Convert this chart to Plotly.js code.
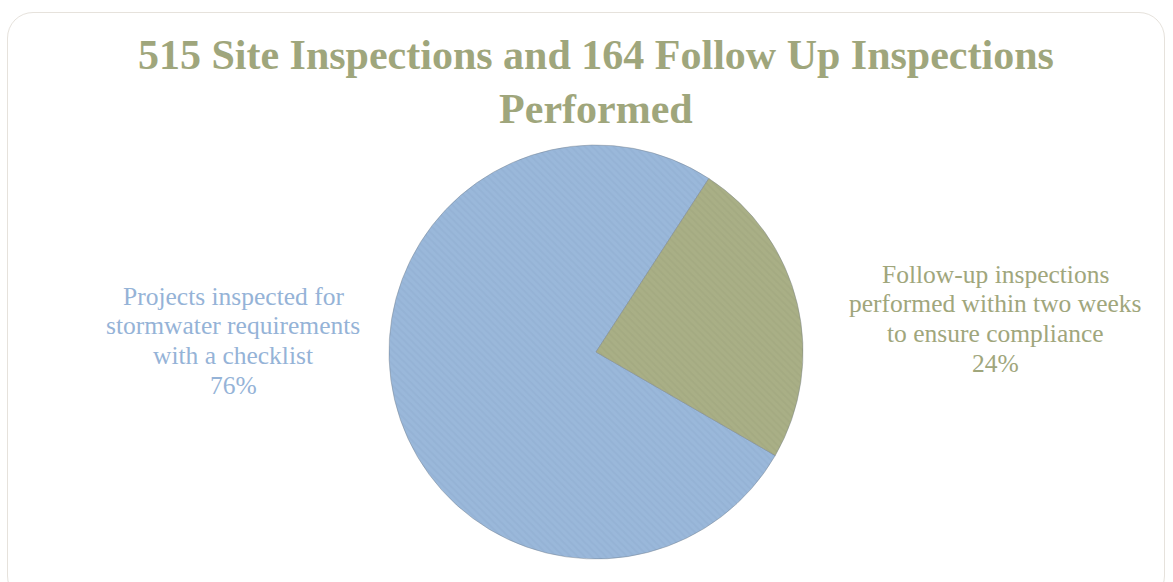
<!DOCTYPE html>
<html>
<head>
<meta charset="utf-8">
<script src="https://cdn.plot.ly/plotly-3.0.1.min.js"></script>
<style>
  html, body { margin: 0; padding: 0; background: #fff; }
  #card {
    position: absolute; left: 7px; top: 12px; width: 1158px; height: 590px;
    border: 1.5px solid #e6e2dc; border-radius: 26px; box-sizing: border-box;
  }
  #pie { position: absolute; left: 0; top: 0; width: 1173px; height: 582px; }
</style>
</head>
<body>
<div id="card"></div>
<div id="pie"></div>
<script>
var labelLines = [
    ['Projects inspected for', 'stormwater requirements', 'with a checklist'],
    ['Follow-up inspections', 'performed within two weeks', 'to ensure compliance']
];
var counts = [515, 164];
var colors = ['#9ab8da', '#a9af86'];
var textColors = ['#95b3d7', '#a0a67c'];

var total = counts[0] + counts[1];
var pct = counts.map(function (v) { return Math.round(v / total * 100) + '%'; });

var trace = {
    type: 'pie',
    values: counts,
    labels: labelLines.map(function (l) { return l.join(' '); }),
    sort: false,
    direction: 'clockwise',
    rotation: 120,
    textinfo: 'none',
    hoverinfo: 'label+percent',
    domain: {x: [0.3316, 0.6846], y: [0.0395, 0.7509]},
    marker: {
        colors: colors,
        line: {color: 'rgba(110,120,130,0.4)', width: 1},
        pattern: {shape: '\\', bgcolor: colors, fgcolor: ['#7590b5', '#878d64'],
                  fgopacity: 0.14, size: 5, solidity: 0.4}
    },
    showlegend: false
};

var font = "Liberation Serif, 'Times New Roman', serif";

// label blocks: centre x and centre of the first line (px from top)
var blocks = [{x: 233, y0: 296}, {x: 995, y0: 274}];
var annotations = [];
blocks.forEach(function (b, i) {
    labelLines[i].concat([pct[i]]).forEach(function (t, j) {
        annotations.push({
            x: b.x / 1173, y: 1 - (b.y0 + j * 29.7) / 582,
            xref: 'paper', yref: 'paper', xanchor: 'center', yanchor: 'middle',
            showarrow: false, text: t,
            font: {family: font, size: 25.5, color: textColors[i]}
        });
    });
});

var layout = {
    width: 1173,
    height: 582,
    margin: {l: 0, r: 0, t: 0, b: 0},
    paper_bgcolor: 'rgba(0,0,0,0)',
    title: {
        text: '<b>515 Site Inspections and 164 Follow Up Inspections<br>Performed</b>',
        font: {family: font, size: 42, color: '#9fa67c'},
        x: 0.508, xanchor: 'center',
        y: 0.882, yanchor: 'top'
    },
    annotations: annotations
};

Plotly.newPlot('pie', [trace], layout, {displayModeBar: false});
</script>
</body>
</html>
